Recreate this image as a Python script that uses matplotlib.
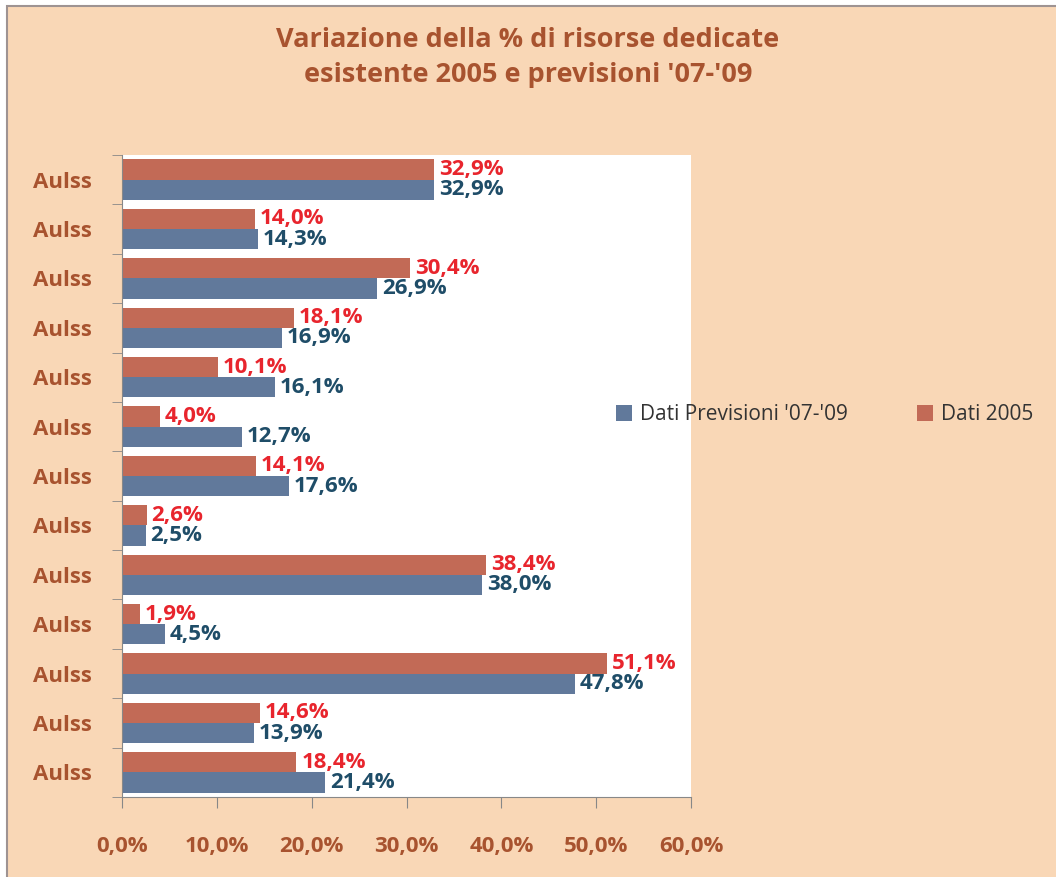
import matplotlib
matplotlib.use("Agg")
import matplotlib.pyplot as plt
from matplotlib.patches import Rectangle
import numpy as np

categories = ["Aulss"] * 13
dati_2005 = [32.9, 14.0, 30.4, 18.1, 10.1, 4.0, 14.1, 2.6, 38.4, 1.9, 51.1, 14.6, 18.4]
dati_prev = [32.9, 14.3, 26.9, 16.9, 16.1, 12.7, 17.6, 2.5, 38.0, 4.5, 47.8, 13.9, 21.4]
xticks = [0, 10, 20, 30, 40, 50, 60]
title = "Variazione della % di risorse dedicate\nesistente 2005 e previsioni '07-'09"

bg = "#F9D7B6"
c_prev = "#61799B"
c_2005 = "#C26A56"
brown = "#A8532F"
red_lbl = "#E8252D"
blue_lbl = "#1F4D68"

plt.rcParams['font.family'] = ['Open Sans', 'DejaVu Sans']

fig = plt.figure(figsize=(10.56, 8.77), dpi=100, facecolor="white")
fig.patches.append(Rectangle((6.5 / 1056, -0.05), 1.2, 1.05 - 5.5 / 877,
                             transform=fig.transFigure, facecolor=bg,
                             edgecolor="#9E9392", linewidth=1.5, zorder=-10))

ax = fig.add_axes([0.1155, 0.0912, 0.5389, 0.7321])
ax.set_facecolor("white")

n = len(categories)
y = np.arange(n)
h = 0.41
b1 = ax.barh(y - h / 2, dati_2005, height=h, color=c_2005, label="Dati 2005")
b2 = ax.barh(y + h / 2, dati_prev, height=h, color=c_prev, label="Dati Previsioni '07-'09")

for rect, v in zip(b1, dati_2005):
    ax.text(v + 0.5, rect.get_y() + rect.get_height() / 2, f"{v:.1f}%".replace(".", ","),
            va="center", ha="left", color=red_lbl, fontsize=16, fontweight="bold")
for rect, v in zip(b2, dati_prev):
    ax.text(v + 0.5, rect.get_y() + rect.get_height() / 2, f"{v:.1f}%".replace(".", ","),
            va="center", ha="left", color=blue_lbl, fontsize=16, fontweight="bold")

ax.set_ylim(n - 0.5, -0.5)
ax.set_xlim(0, 60)
ax.set_yticks(y)
ax.set_yticklabels(categories, fontsize=16, fontweight="bold", color=brown)
ax.set_yticks(np.arange(n + 1) - 0.5, minor=True)
ax.tick_params(axis="y", which="major", length=0, pad=22)
ax.tick_params(axis="y", which="minor", length=7, color="#888888", direction="out")
ax.set_xticks(xticks)
ax.set_xticklabels([f"{t:.1f}%".replace(".", ",") for t in xticks], fontsize=16,
                   fontweight="bold", color=brown)
ax.tick_params(axis="x", length=8, color="#888888", direction="out", pad=20)

for s in ["top", "right"]:
    ax.spines[s].set_visible(False)
for s in ["left", "bottom"]:
    ax.spines[s].set_color("#888888")

handles = [b2, b1]
fig.legend(handles, [h_.get_label() for h_ in handles], loc="center left",
           bbox_to_anchor=(0.566, 0.527), ncol=2, frameon=False, fontsize=15,
           handlelength=0.75, handleheight=0.75, columnspacing=3.3, handletextpad=0.4,
           labelcolor="#333333")

fig.text(0.5, 0.935, title, ha="center", va="center", fontsize=19.5, fontweight="bold",
         color=brown, linespacing=1.45)

fig.savefig("out.png", dpi=100, facecolor="white")
